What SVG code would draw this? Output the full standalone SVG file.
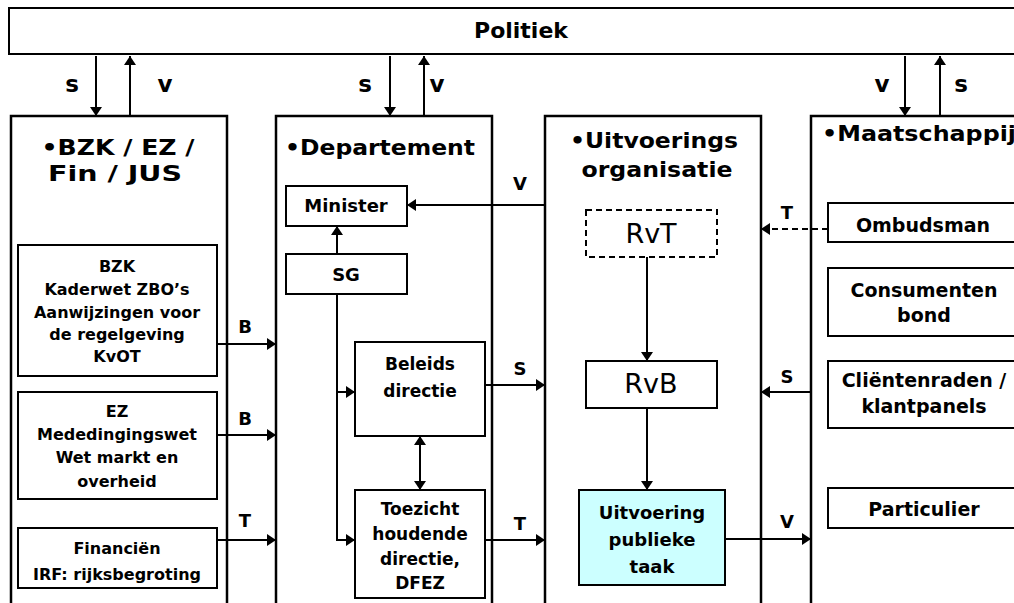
<svg xmlns="http://www.w3.org/2000/svg" width="1014" height="603" viewBox="0 0 1014 603">
  <style>
    .box { fill: #ffffff; stroke: #000000; stroke-width: 2; }
    .outer { fill: #ffffff; stroke: #000000; stroke-width: 2.5; }
    .dash { fill: #ffffff; stroke: #000000; stroke-width: 2; stroke-dasharray: 6 4; }
    .task { fill: #ccffff; stroke: #000000; stroke-width: 2; }
    .ln { fill: none; stroke: #000000; stroke-width: 2; }
    .arr { fill: none; stroke: #000000; stroke-width: 2; marker-end: url(#ah); }
    .darr { fill: none; stroke: #000000; stroke-width: 2; stroke-dasharray: 6 4; marker-end: url(#ah); }
    text { font-family: "DejaVu Sans", "Liberation Sans", Arial, sans-serif; fill: #000000; font-weight: bold; text-anchor: middle; }
    .hd { font-size: 22px; }
    .lbl { font-size: 18px; }
    .top { font-size: 23px; }
    .sm { font-size: 16px; }
    .md { font-size: 17px; }
    .mn { font-size: 18px; }
    .rt { font-size: 19px; }
    .rv { font-size: 27px; font-weight: normal; }
  </style>
  <defs>
    <marker id="ah" viewBox="0 0 9 12" refX="9" refY="6" markerWidth="9" markerHeight="12" markerUnits="userSpaceOnUse" orient="auto-start-reverse">
      <path d="M0,0 L9,6 L0,12 z" fill="#000000"/>
    </marker>
  </defs>

  <rect width="1014" height="603" fill="#ffffff"/>

  <!-- Politiek bar -->
  <g id="politiek">
    <rect class="box" x="9" y="8" width="1020" height="46"/>
    <text class="hd" x="521" y="38">Politiek</text>
  </g>

  <!-- Column: BZK / EZ / Fin / JUS -->
  <g id="bzk-ez-fin-jus">
    <rect class="outer" x="11" y="116" width="216" height="500"/>
    <text class="hd" x="118" y="155" textLength="153" lengthAdjust="spacingAndGlyphs">•BZK / EZ /</text>
    <text class="hd" x="115" y="181" textLength="134" lengthAdjust="spacingAndGlyphs">Fin / JUS</text>
  </g>
  <g id="bzk">
    <rect class="box" x="18" y="245" width="199" height="131"/>
    <text class="sm" x="117" y="272">BZK</text>
    <text class="sm" x="117" y="295">Kaderwet ZBO’s</text>
    <text class="sm" x="117" y="318">Aanwijzingen voor</text>
    <text class="sm" x="117" y="340">de regelgeving</text>
    <text class="sm" x="117" y="362">KvOT</text>
  </g>
  <g id="ez">
    <rect class="box" x="18" y="392" width="199" height="107"/>
    <text class="sm" x="117" y="417">EZ</text>
    <text class="sm" x="117" y="440">Mededingingswet</text>
    <text class="sm" x="117" y="463">Wet markt en</text>
    <text class="sm" x="117" y="487">overheid</text>
  </g>
  <g id="financien">
    <rect class="box" x="18" y="528" width="199" height="60"/>
    <text class="sm" x="117" y="554">Financiën</text>
    <text class="sm" x="117" y="580">IRF: rijksbegroting</text>
  </g>

  <!-- Column: Departement -->
  <g id="departement">
    <rect class="outer" x="276" y="116" width="216" height="500"/>
    <text class="hd" x="380" y="155" textLength="190" lengthAdjust="spacingAndGlyphs">•Departement</text>
  </g>
  <g id="minister">
    <rect class="box" x="286" y="186" width="121" height="40"/>
    <text class="mn" x="346" y="212">Minister</text>
  </g>
  <g id="sg">
    <rect class="box" x="286" y="254" width="121" height="40"/>
    <text class="mn" x="346" y="281">SG</text>
  </g>
  <g id="beleidsdirectie">
    <rect class="box" x="355" y="342" width="130" height="94"/>
    <text class="md" x="420" y="370">Beleids</text>
    <text class="md" x="420" y="397">directie</text>
  </g>
  <g id="toezicht">
    <rect class="box" x="355" y="490" width="130" height="108"/>
    <text class="md" x="420" y="515">Toezicht</text>
    <text class="md" x="420" y="540">houdende</text>
    <text class="md" x="420" y="565">directie,</text>
    <text class="md" x="420" y="589">DFEZ</text>
  </g>

  <!-- Column: Uitvoeringsorganisatie -->
  <g id="uitvoeringsorganisatie">
    <rect class="outer" x="545" y="116" width="216" height="500"/>
    <text class="hd" x="654" y="148" textLength="168" lengthAdjust="spacingAndGlyphs">•Uitvoerings</text>
    <text class="hd" x="657" y="177" textLength="151" lengthAdjust="spacingAndGlyphs">organisatie</text>
  </g>
  <g id="rvt">
    <rect class="dash" x="586" y="210" width="131" height="47"/>
    <text class="rv" x="651" y="243">RvT</text>
  </g>
  <g id="rvb">
    <rect class="box" x="586" y="361" width="131" height="47"/>
    <text class="rv" x="651" y="393">RvB</text>
  </g>
  <g id="uitvoering-publieke-taak">
    <rect class="task" x="579" y="490" width="146" height="95"/>
    <text class="mn" x="652" y="519">Uitvoering</text>
    <text class="mn" x="652" y="546">publieke</text>
    <text class="mn" x="652" y="573">taak</text>
  </g>

  <!-- Column: Maatschappij -->
  <g id="maatschappij">
    <rect class="outer" x="811" y="116" width="220" height="500"/>
    <text class="hd" x="822" y="141" text-anchor="start" style="text-anchor:start" textLength="194" lengthAdjust="spacingAndGlyphs">•Maatschappij</text>
  </g>
  <g id="ombudsman">
    <rect class="box" x="828" y="203" width="200" height="39"/>
    <text class="rt" x="923" y="232">Ombudsman</text>
  </g>
  <g id="consumentenbond">
    <rect class="box" x="828" y="268" width="200" height="68"/>
    <text class="rt" x="924" y="297">Consumenten</text>
    <text class="rt" x="924" y="322">bond</text>
  </g>
  <g id="clientenraden">
    <rect class="box" x="828" y="361" width="200" height="67"/>
    <text class="rt" x="924" y="387">Cliëntenraden /</text>
    <text class="rt" x="924" y="413">klantpanels</text>
  </g>
  <g id="particulier">
    <rect class="box" x="828" y="488" width="200" height="40"/>
    <text class="rt" x="924" y="516">Particulier</text>
  </g>

  <!-- Connectors -->
  <g id="connectors">
    <!-- Politiek <-> columns -->
    <path class="arr" d="M96,56 V116"/>
    <path class="arr" d="M130,116 V56"/>
    <path class="arr" d="M390,56 V116"/>
    <path class="arr" d="M424,116 V56"/>
    <path class="arr" d="M905,56 V116"/>
    <path class="arr" d="M940,116 V56"/>
    <text class="top" x="72" y="92">s</text>
    <text class="top" x="165" y="92">v</text>
    <text class="top" x="365" y="92">s</text>
    <text class="top" x="437" y="92">v</text>
    <text class="top" x="882" y="92">v</text>
    <text class="top" x="961" y="92">s</text>

    <!-- BZK / EZ / Fin -> Departement -->
    <path class="arr" d="M217,344 H276"/>
    <path class="arr" d="M217,435 H276"/>
    <path class="arr" d="M217,540 H276"/>
    <text class="lbl" x="245" y="333">B</text>
    <text class="lbl" x="245" y="425">B</text>
    <text class="lbl" x="245" y="527">T</text>

    <!-- inside Departement -->
    <path class="arr" d="M337,254 V226"/>
    <path class="arr" d="M337,294 V540 H355"/>
    <path class="arr" d="M337,392 H355"/>
    <path class="arr" d="M420,436 V490" style="marker-start:url(#ah)"/>

    <!-- Departement <-> Uitvoeringsorganisatie -->
    <path class="arr" d="M545,205 H407"/>
    <path class="arr" d="M485,385 H545"/>
    <path class="arr" d="M485,540 H545"/>
    <text class="lbl" x="520" y="190">V</text>
    <text class="lbl" x="520" y="375">S</text>
    <text class="lbl" x="520" y="530">T</text>

    <!-- inside Uitvoeringsorganisatie -->
    <path class="arr" d="M647,257 V361"/>
    <path class="arr" d="M647,408 V490"/>

    <!-- Uitvoeringsorganisatie <-> Maatschappij -->
    <path class="darr" d="M828,229 H761"/>
    <path class="arr" d="M811,392 H761"/>
    <path class="arr" d="M725,539 H811"/>
    <text class="lbl" x="787" y="219">T</text>
    <text class="lbl" x="787" y="383">S</text>
    <text class="lbl" x="787" y="528">V</text>
  </g>
</svg>
